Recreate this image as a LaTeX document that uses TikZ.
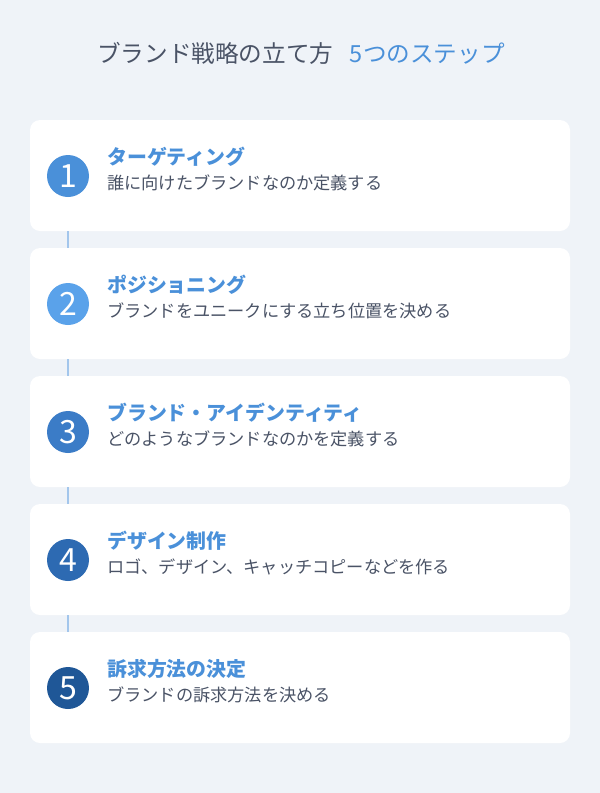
\documentclass[tikz,border=0pt]{standalone}
\usepackage{fontspec}
\setmainfont{Noto Sans CJK JP}
\usepackage{tikz}
\usetikzlibrary{math}
\definecolor{pagebg}{HTML}{EFF3F8}
\definecolor{inkgray}{HTML}{4A5366}
\definecolor{headblue}{HTML}{4A90D9}
\definecolor{linkblue}{HTML}{A3C6EC}
\definecolor{numA}{HTML}{4A90D9}
\definecolor{numB}{HTML}{5AA2EA}
\definecolor{numC}{HTML}{3B7CC7}
\definecolor{numD}{HTML}{2D6AB2}
\definecolor{numE}{HTML}{1F5797}
\tikzset{
  card/.style = {fill=white, rounded corners=10pt, minimum width=540pt,
    minimum height=111pt, inner sep=0pt},
  stepnum/.style = {circle, fill=#1, text=white, minimum size=42pt,
    inner sep=0pt, font=\fontsize{32}{32}\selectfont},
  jtext/.style = {anchor=west, inner sep=0pt, text height=0.88em,
    text depth=0.12em},
  heading/.style = {jtext, text=headblue,
    font=\fontsize{19.9}{19.9}\selectfont\bfseries},
  subline/.style = {jtext, text=inkgray, font=\fontsize{17.2}{17.2}\selectfont},
  link/.style = {draw=linkblue, line width=1.6pt}
}

\begin{document}
\begin{tikzpicture}[x=1pt,y=1pt]
    \tikzmath{
      \W = 600;
      \H = 793;
      \cardTop = 120;
      \cardGap = 128;
      \cardH = 111;
      \numX = 68;
      \textX = 107;
      \headDy = 41;
      \subDy = 66;
    }
    \fill[pagebg] (0,0) rectangle (\W,-\H);
    \useasboundingbox (0,0) rectangle (\W,-\H);
    % title
    \node[jtext, anchor=center, font=\fontsize{23.6}{23.6}\selectfont]
      (title) at (301,-59) {\textcolor{inkgray}{ブランド戦略の立て方}\hspace{0.7em}\textcolor{headblue}{5つのステップ}};
    % cards
    \node[card] (card1) at (300, {-(\cardTop + \cardH/2)}) {};
    \node[card] (card2) at (300, {-(\cardTop + \cardGap + \cardH/2)}) {};
    \node[card] (card3) at (300, {-(\cardTop + 2*\cardGap + \cardH/2)}) {};
    \node[card] (card4) at (300, {-(\cardTop + 3*\cardGap + \cardH/2)}) {};
    \node[card] (card5) at (300, {-(\cardTop + 4*\cardGap + \cardH/2)}) {};
    % numbers
    \node[stepnum=numA] (num1) at (\numX, {-(\cardTop + 56)}) {1};
    \node[stepnum=numB] (num2) at (\numX, {-(\cardTop + \cardGap + 56)}) {2};
    \node[stepnum=numC] (num3) at (\numX, {-(\cardTop + 2*\cardGap + 56)}) {3};
    \node[stepnum=numD] (num4) at (\numX, {-(\cardTop + 3*\cardGap + 56)}) {4};
    \node[stepnum=numE] (num5) at (\numX, {-(\cardTop + 4*\cardGap + 56)}) {5};
    % links between cards
    \draw[link] (num1 |- card1.south) -- (num1 |- card2.north);
    \draw[link] (num2 |- card2.south) -- (num2 |- card3.north);
    \draw[link] (num3 |- card3.south) -- (num3 |- card4.north);
    \draw[link] (num4 |- card4.south) -- (num4 |- card5.north);
    % texts
    \node[heading] (head1) at (\textX, {-(\cardTop + \headDy)}) {ターゲティング};
    \node[subline] (sub1) at (\textX, {-(\cardTop + \subDy)}) {誰に向けたブランドなのか定義する};
    \node[heading] (head2) at (\textX, {-(\cardTop + \cardGap + \headDy)}) {ポジショニング};
    \node[subline] (sub2) at (\textX, {-(\cardTop + \cardGap + \subDy)}) {ブランドをユニークにする立ち位置を決める};
    \node[heading] (head3) at (\textX, {-(\cardTop + 2*\cardGap + \headDy)}) {ブランド・アイデンティティ};
    \node[subline] (sub3) at (\textX, {-(\cardTop + 2*\cardGap + \subDy)}) {どのようなブランドなのかを定義する};
    \node[heading] (head4) at (\textX, {-(\cardTop + 3*\cardGap + \headDy)}) {デザイン制作};
    \node[subline] (sub4) at (\textX, {-(\cardTop + 3*\cardGap + \subDy)}) {ロゴ、デザイン、キャッチコピーなどを作る};
    \node[heading] (head5) at (\textX, {-(\cardTop + 4*\cardGap + \headDy)}) {訴求方法の決定};
    \node[subline] (sub5) at (\textX, {-(\cardTop + 4*\cardGap + \subDy)}) {ブランドの訴求方法を決める};
  \end{tikzpicture}
\end{document}
